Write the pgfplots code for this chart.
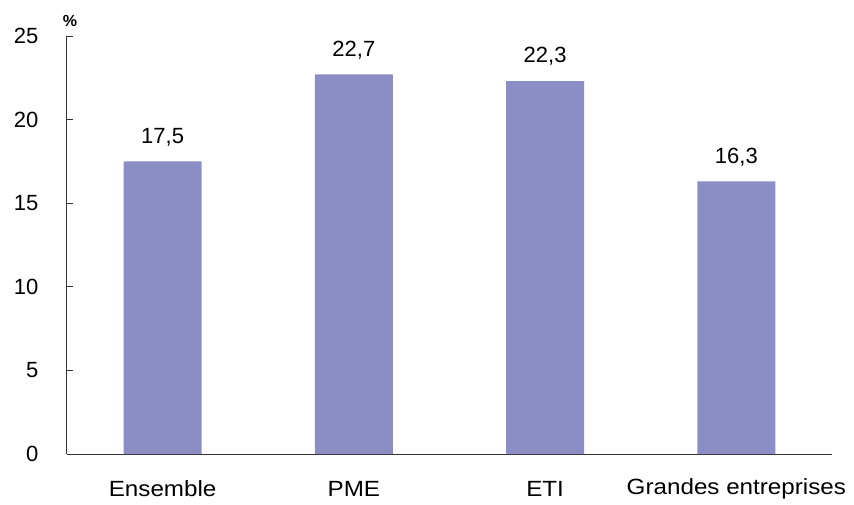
\documentclass[border=0pt]{standalone}
\usepackage{pgfplots}
\pgfplotsset{compat=1.18}
\usepackage{fontspec}
\setmainfont{Liberation Sans}
\definecolor{barc}{RGB}{139,142,196}
\definecolor{axc}{RGB}{50,50,50}
\newcommand{\wx}[1]{\scalebox{1.1}[1]{#1}}
\begin{document}
\begin{tikzpicture}
\begin{axis}[
  name=ax,
  scale only axis,
  width=765pt, height=418pt,
  xmin=-0.5, xmax=3.5,
  ymin=0, ymax=25,
  ytick={0,5,10,15,20,25},
  xtick=data,
  xticklabels={\wx{Ensemble},\wx{PME},\wx{ETI},\wx{Grandes entreprises}},
  axis x line*=bottom, axis y line*=left,
  axis line style={axc, line width=1pt, -},
  x axis line style={-},
  y axis line style={-},
  major x tick style={draw=none},
  ytick style={axc, line width=0.8pt},
  tick align=inside,
  major tick length=6pt,
  ytick pos=left,
  xtick pos=bottom,
  /pgf/number format/assume math mode=true,
  tick label style={font=\fontsize{22}{25}\selectfont},
  yticklabel style={anchor=east, xshift=-25pt},
  xticklabel style={anchor=center, yshift=-29pt},
  ybar, bar width=78pt,
  nodes near coords,
  nodes near coords style={font=\fontsize{22}{25}\selectfont, yshift=12pt,
    /pgf/number format/.cd, use comma, fixed, fixed zerofill, precision=1},
  every node near coord/.append style={/pgf/number format/assume math mode=true},
  clip=false,
]
\addplot[fill=barc, draw=none] coordinates {(0,17.5) (1,22.7) (2,22.3) (3,16.3)};
\node[font=\fontsize{16}{18}\selectfont\bfseries] at ([yshift=15pt,xshift=3pt]rel axis cs:0,1) {\%};
\end{axis}
\pgfresetboundingbox
\path[use as bounding box] (ax.south west) ++(-67pt,-50pt) rectangle ++(854pt,504pt);
\end{tikzpicture}
\end{document}
